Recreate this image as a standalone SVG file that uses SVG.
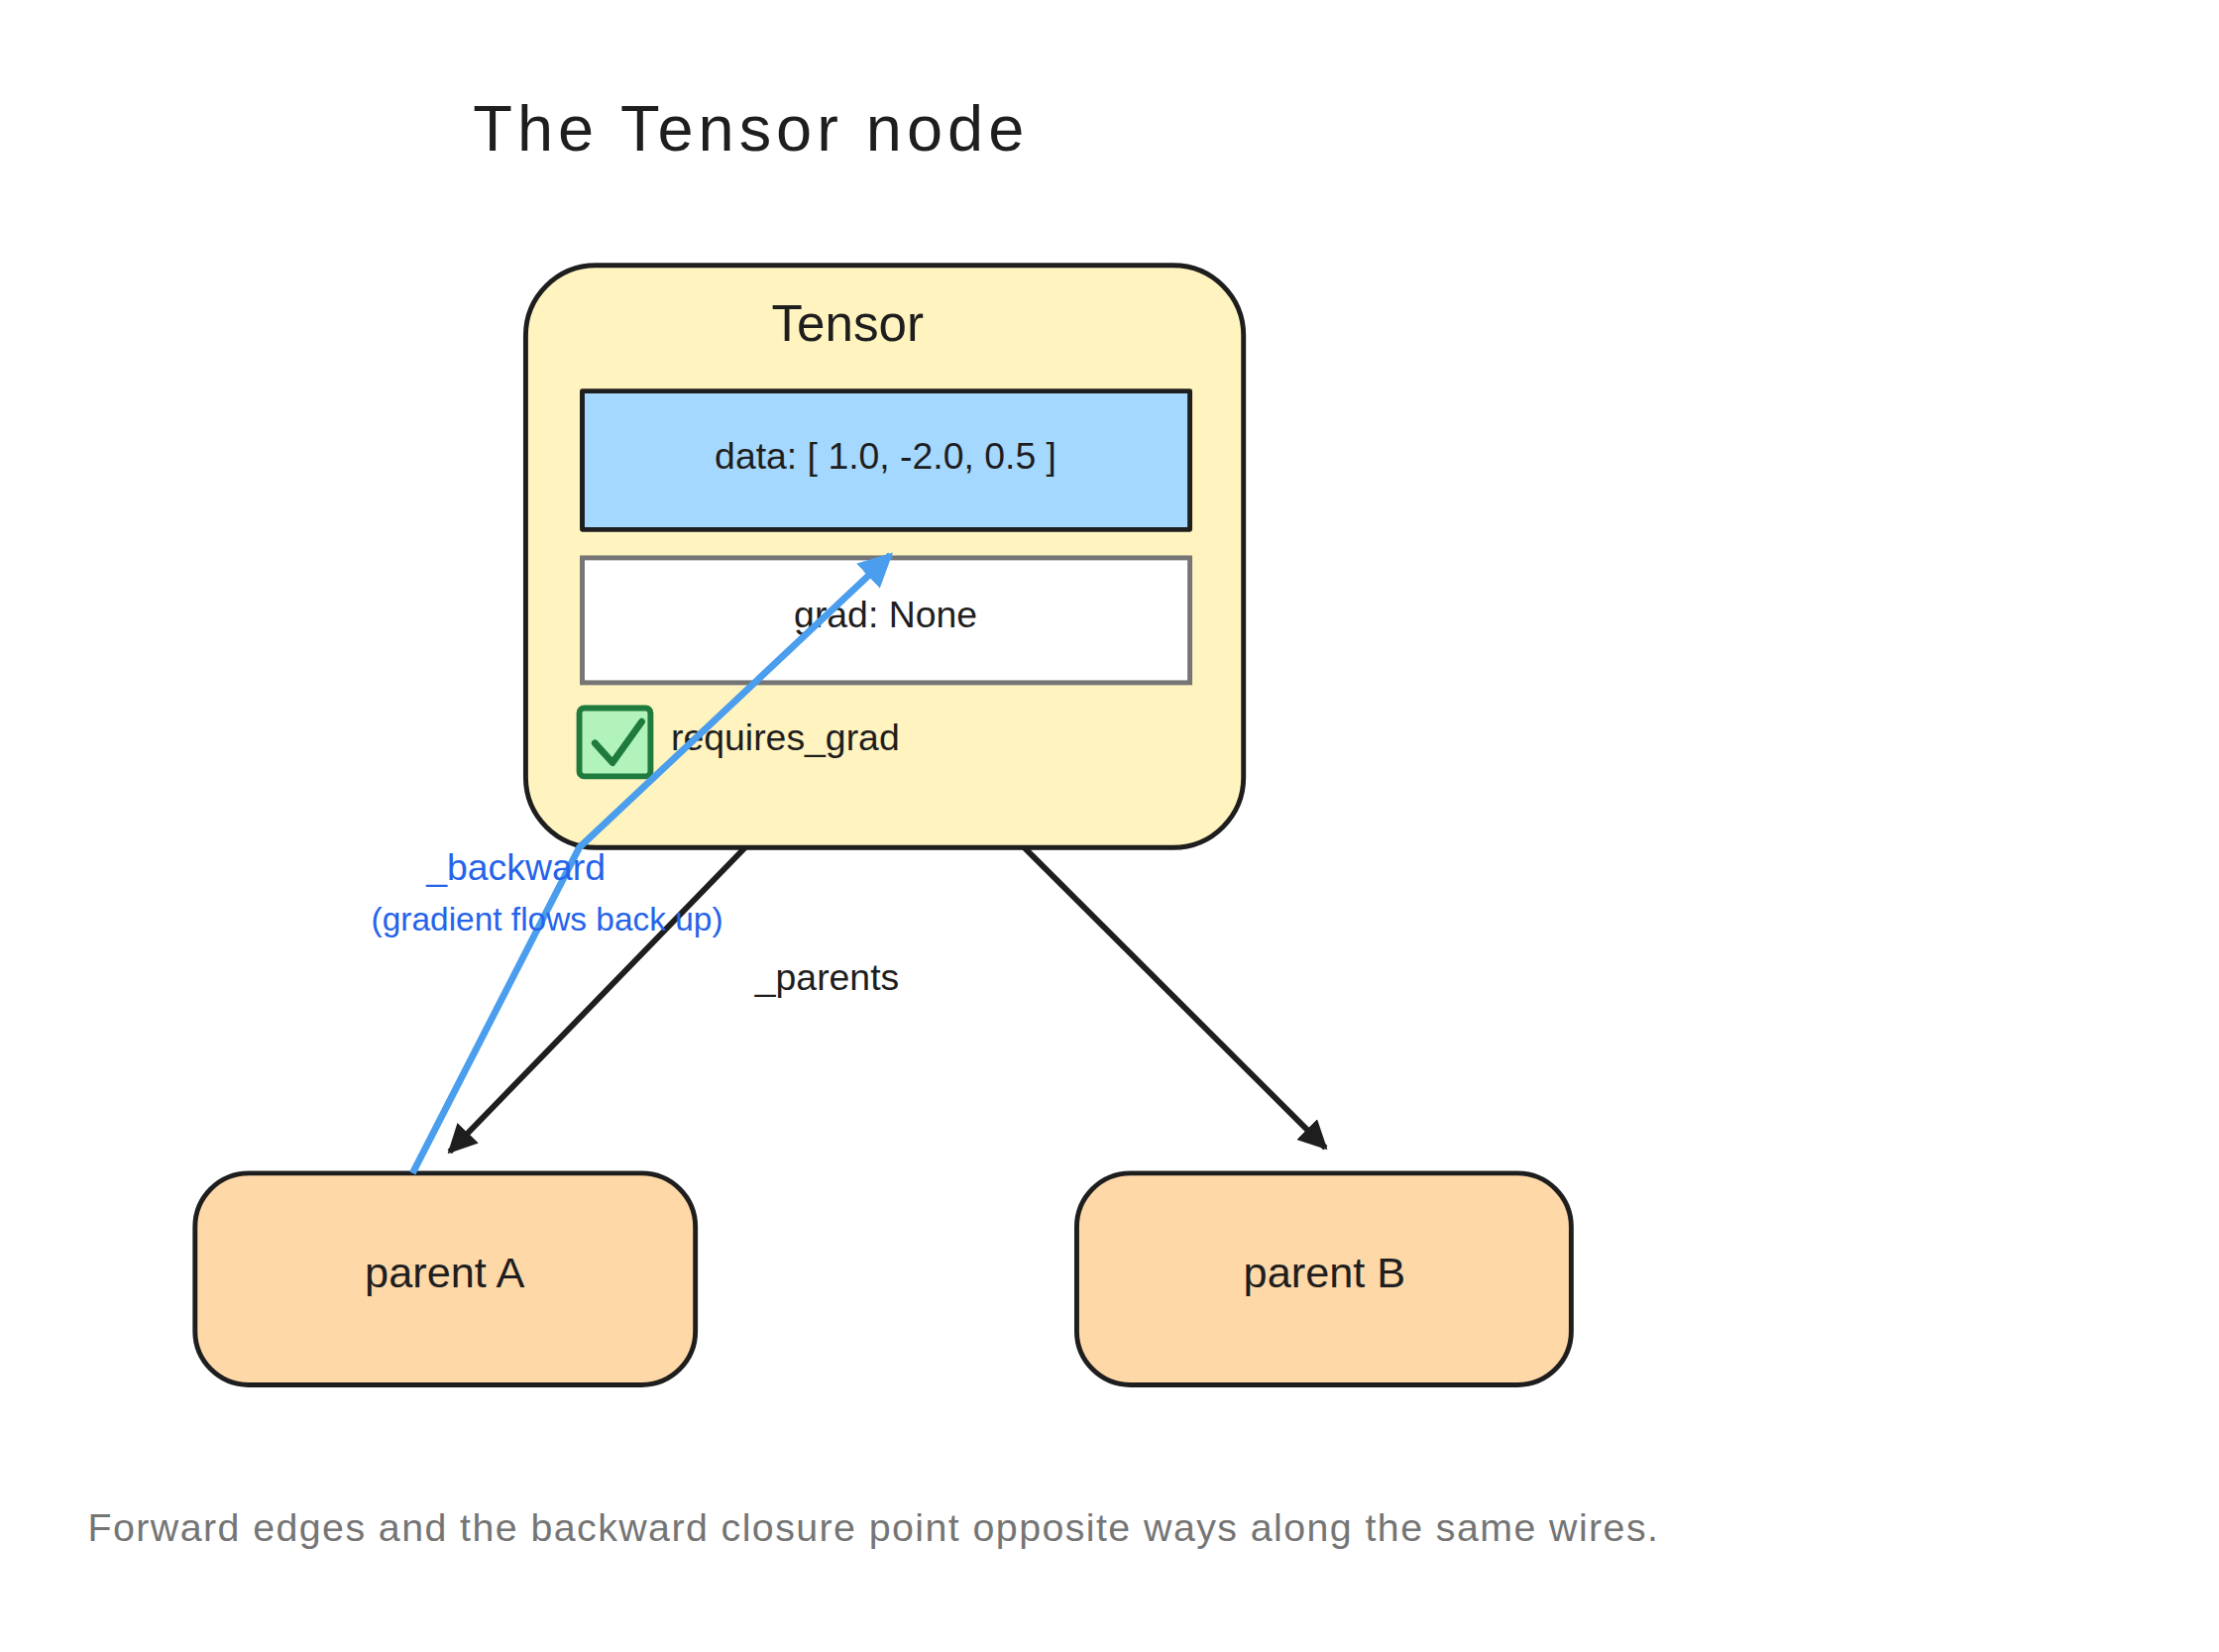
<svg xmlns="http://www.w3.org/2000/svg" width="2239" height="1667" viewBox="0 0 2239 1667">
<style>
text{font-family:"Liberation Sans","DejaVu Sans",sans-serif;fill:#1e1e1e}
.c{text-anchor:middle}
.ol{stroke:#1e1e1e;stroke-width:5;stroke-linejoin:round}
</style>
<defs>
<marker id="ah" viewBox="0 0 10 10" refX="9" refY="5" markerWidth="5" markerHeight="5" orient="auto-start-reverse"><path d="M0,0 L10,5 L0,10 Z" fill="#1e1e1e"/></marker>
<marker id="bh" viewBox="0 0 10 10" refX="9" refY="5" markerWidth="5" markerHeight="5" orient="auto-start-reverse"><path d="M0,0 L10,5 L0,10 Z" fill="#4a9eed"/></marker>
</defs>
<rect width="2239" height="1667" fill="#fff"/>
<g transform="scale(0.9841)">
<text x="485" y="154" font-size="66" textLength="565">The Tensor node</text>
<g id="tensor">
<rect x="539" y="272" width="736" height="597" rx="72" fill="#fff3bf" class="ol" stroke-width="6"/>
<text x="869" y="350" class="c" font-size="52">Tensor</text>
</g>
<g id="data">
<rect x="597" y="401" width="623" height="142" fill="#a5d8ff" class="ol"/>
<text x="908" y="481" class="c" font-size="38">data: [ 1.0, -2.0, 0.5 ]</text>
</g>
<g id="grad">
<rect x="597" y="572" width="623" height="128" fill="#fff" stroke="#757575" stroke-width="5"/>
<text x="908" y="643" class="c" font-size="38">grad: None</text>
</g>
<g id="requires_grad">
<rect x="594" y="726" width="73" height="70" rx="5" fill="#b2f2bb" stroke="#1f7a3d" stroke-width="6"/>
<path d="M610,762 L628,782 L658,740" fill="none" stroke="#1f7a3d" stroke-width="7" stroke-linecap="round" stroke-linejoin="round"/>
<text x="688" y="769" font-size="38">requires_grad</text>
</g>
<g id="parentA">
<rect x="200" y="1203" width="513" height="217" rx="55" fill="#ffd8a8" class="ol"/>
<text x="456" y="1320" class="c" font-size="44">parent A</text>
</g>
<g id="parentB">
<rect x="1104" y="1203" width="507" height="217" rx="55" fill="#ffd8a8" class="ol"/>
<text x="1358" y="1320" class="c" font-size="44">parent B</text>
</g>
<g id="connectors">
<line x1="764" y1="869" x2="461" y2="1181" stroke="#1e1e1e" stroke-width="6" marker-end="url(#ah)"/>
<line x1="1050" y1="869" x2="1359" y2="1177" stroke="#1e1e1e" stroke-width="6" marker-end="url(#ah)"/>
<polyline points="423,1203 594,869 913,569" fill="none" stroke="#4a9eed" stroke-width="7" marker-end="url(#bh)"/>
<text x="848" y="1015" class="c" font-size="38">_parents</text>
<text x="529" y="902" class="c" font-size="38" style="fill:#2563eb">_backward</text>
<text x="561" y="954" class="c" font-size="34" style="fill:#2563eb">(gradient flows back up)</text>
</g>
<text x="90" y="1580" font-size="40" textLength="1610" style="fill:#757575">Forward edges and the backward closure point opposite ways along the same wires.</text>
</g>
</svg>
